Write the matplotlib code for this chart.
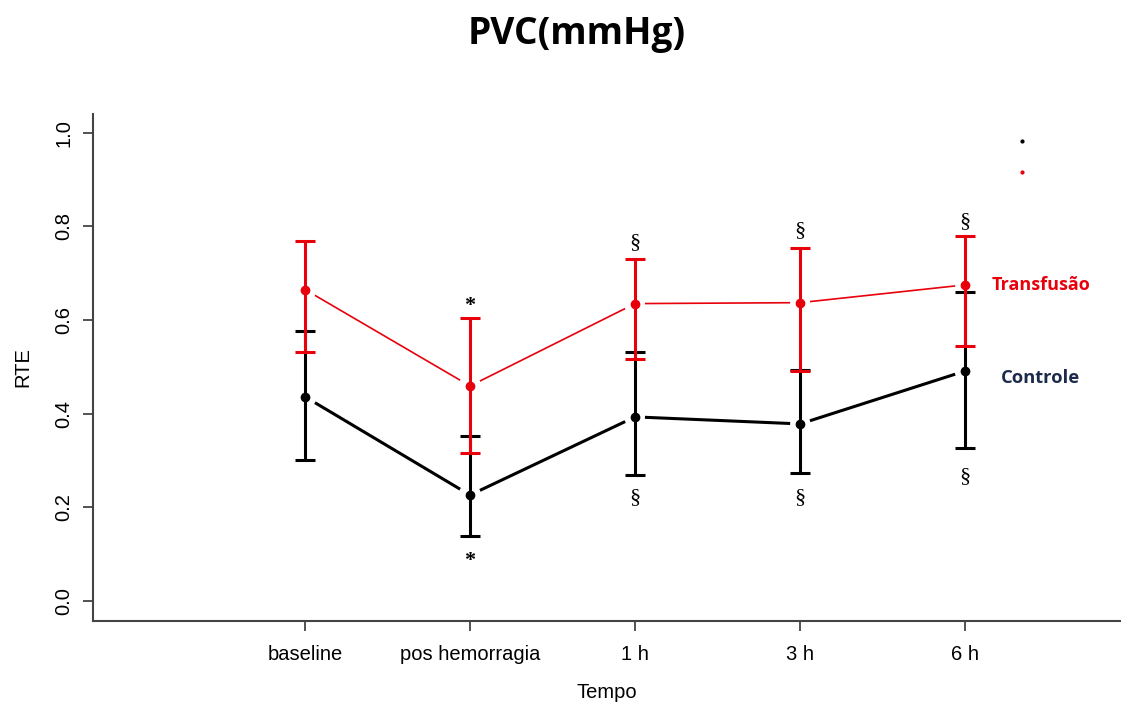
import numpy as np
import matplotlib.pyplot as plt

tempos = ["baseline", "pos hemorragia", "1 h", "3 h", "6 h"]

# Transfusão: mean, upper and lower error limits
transf_media = [0.665, 0.459, 0.635, 0.637, 0.675]
transf_sup = [0.769, 0.605, 0.731, 0.754, 0.780]
transf_inf = [0.532, 0.316, 0.517, 0.491, 0.545]

# Controle
contr_media = [0.436, 0.226, 0.393, 0.378, 0.491]
contr_sup = [0.577, 0.353, 0.532, 0.494, 0.660]
contr_inf = [0.301, 0.139, 0.269, 0.274, 0.327]

# significance marks: (category index, y, symbol)
marcas = [
    (1, 0.63, "*"), (1, 0.085, "*"),
    (2, 0.765, "§"), (3, 0.79, "§"), (4, 0.81, "§"),
    (2, 0.22, "§"), (3, 0.22, "§"), (4, 0.265, "§"),
]

x = np.arange(1, len(tempos) + 1)

fig = plt.figure(figsize=(11.21, 7.09), dpi=100)
ax = fig.add_axes([93 / 1121, 88 / 709, 1 - 93 / 1121, 507 / 709])


def linha_b(ax, xs, ys, cor, lw, gap=0.06):
    # R type="b": segments stop short of each point
    for i in range(len(xs) - 1):
        x0, x1 = xs[i], xs[i + 1]
        y0, y1 = ys[i], ys[i + 1]
        dx, dy = x1 - x0, y1 - y0
        ax.plot([x0 + gap * dx, x1 - gap * dx], [y0 + gap * dy, y1 - gap * dy],
                color=cor, lw=lw, solid_capstyle="butt", zorder=2)


def barras(ax, xs, med, sup, inf, cor, z):
    ax.errorbar(xs, med,
                yerr=[np.array(med) - np.array(inf), np.array(sup) - np.array(med)],
                fmt="o", color=cor, ms=6, elinewidth=2.2, capsize=7.5,
                capthick=2.2, zorder=z)


barras(ax, x, contr_media, contr_sup, contr_inf, "black", 3)
barras(ax, x, transf_media, transf_sup, transf_inf, "#e8000b", 4)
linha_b(ax, x, contr_media, "black", 2.2)
linha_b(ax, x, transf_media, "#e8000b", 1.2)

# small leftover legend points
ax.plot([5.345], [0.983], "o", color="black", ms=2)
ax.plot([5.345], [0.917], "o", color="#e8000b", ms=2)

for i, yv, s in marcas:
    ax.text(x[i], yv, s, ha="center", va="center", fontsize=16,
            family="Liberation Serif", fontweight="bold" if s == "*" else "normal")

ax.text(5.16, 0.675, "Transfusão", color="#e8000b", fontsize=13,
        fontweight="bold", family="Open Sans", va="center")
ax.text(5.22, 0.476, "Controle", color="#1c2b4a", fontsize=13.2,
        fontweight="bold", family="Open Sans", va="center")

ax.set_xlim(-0.285, 5.945)
ax.set_ylim(-0.043, 1.04)
ax.set_xticks(x)
ax.set_xticklabels(tempos, family="Liberation Sans", fontsize=14.5)
ax.set_yticks([0.0, 0.2, 0.4, 0.6, 0.8, 1.0])
ax.set_yticklabels(["0.0", "0.2", "0.4", "0.6", "0.8", "1.0"],
                   family="Liberation Sans", fontsize=14.5, rotation=90, va="center")
ax.tick_params(axis="x", length=7, width=1.3, color="#444444", pad=10)
ax.tick_params(axis="y", length=7, width=1.3, color="#444444", pad=7)
ax.set_xlabel("Tempo", family="Liberation Sans", fontsize=14.5, labelpad=14)
ax.set_ylabel("RTE", family="Liberation Sans", fontsize=14.5, labelpad=16)

for lado in ["top", "right"]:
    ax.spines[lado].set_visible(False)
for lado in ["left", "bottom"]:
    ax.spines[lado].set_linewidth(1.5)
    ax.spines[lado].set_color("#444444")

fig.text(0.514, 0.952, "PVC(mmHg)", ha="center", va="center", fontsize=26.7,
         fontweight="bold", family="Open Sans")

fig.savefig("out.png", dpi=100)
